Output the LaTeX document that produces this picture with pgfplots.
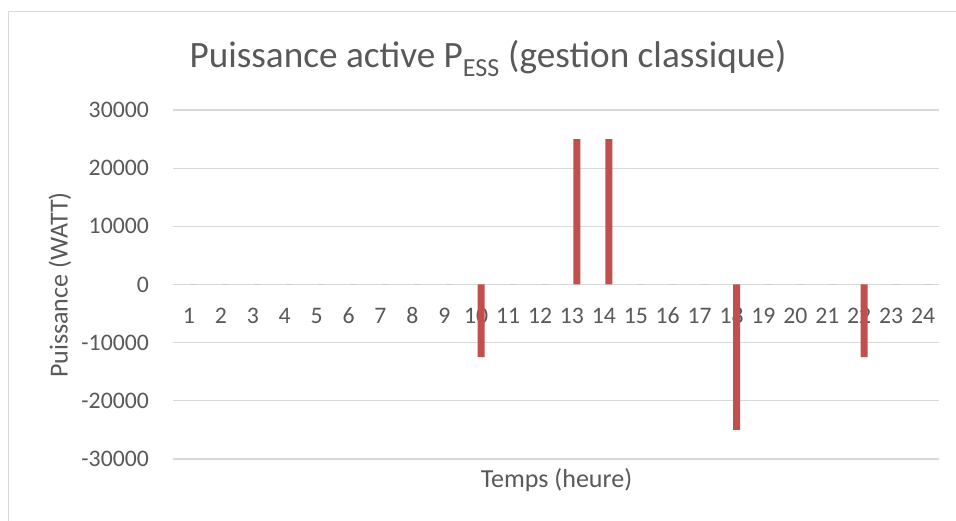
\documentclass[border=0pt]{standalone}
\usepackage{fontspec}
\setmainfont{Carlito}
\usepackage{pgfplots}
\pgfplotsset{compat=1.18}

\definecolor{txtgray}{HTML}{595959}
\definecolor{gridgray}{HTML}{D9D9D9}
\definecolor{barred}{HTML}{C0504D}

\begin{document}
\begin{tikzpicture}
  \useasboundingbox (0pt,0pt) rectangle (956pt,521pt);
  \fill[white] (0pt,0pt) rectangle (956pt,521pt);
  % chart area frame
  \draw[gridgray, line width=1.2pt] (8.3pt,0pt) -- (8.3pt,509.3pt) -- (956pt,509.3pt);

  \begin{axis}[
    at={(173pt,62pt)}, anchor=south west,
    scale only axis, width=766pt, height=349pt,
    xmin=0.5, xmax=24.5, ymin=-30000, ymax=30000,
    axis x line*=middle, axis y line*=left,
    axis line style={draw=none},
    major tick length=0pt,
    scaled y ticks=false,
    xtick={1,...,24},
    xticklabels={1,2,3,4,5,6,7,8,9,10,11,12,13,14,15,16,17,18,19,20,21,22,23,24},
    ytick={-30000,-20000,-10000,0,10000,20000,30000},
    yticklabels={-30000,-20000,-10000,0,10000,20000,30000},
    ymajorgrids,
    grid style={gridgray, line width=1.3pt},
    xticklabel style={anchor=center, inner sep=0pt, yshift=-31.4pt,
      font=\fontsize{23.7}{26}\selectfont, text=txtgray},
    yticklabel style={anchor=east, inner sep=0pt, xshift=-24pt,
      font=\fontsize{23.7}{26}\selectfont, text=txtgray},
    clip=false,
  ]
    \addplot[ybar, fill=barred, draw=none, bar width=7pt, bar shift=5pt]
      coordinates {
        (1,0) (2,0) (3,0) (4,0) (5,0) (6,0) (7,0) (8,0)
        (9,0) (10,-12500) (11,0) (12,0) (13,25000) (14,25000)
        (15,0) (16,0) (17,0) (18,-25000) (19,0) (20,0)
        (21,0) (22,-12500) (23,0) (24,0)
      };
  \end{axis}

  % titles
  \node[anchor=base, text=txtgray, inner sep=0pt,
        font=\fontsize{37.2}{40}\selectfont] at (488pt,453pt)
    {Puissance active P\textsubscript{ESS} (gestion classique)};
  \node[anchor=base, text=txtgray, inner sep=0pt,
        font=\fontsize{26}{30}\selectfont] at (556.5pt,33pt)
    {Temps (heure)};
  \node[rotate=90, anchor=center, text=txtgray, inner sep=0pt,
        font=\fontsize{26}{30}\selectfont] at (60pt,236pt)
    {Puissance (WATT)};
\end{tikzpicture}
\end{document}
